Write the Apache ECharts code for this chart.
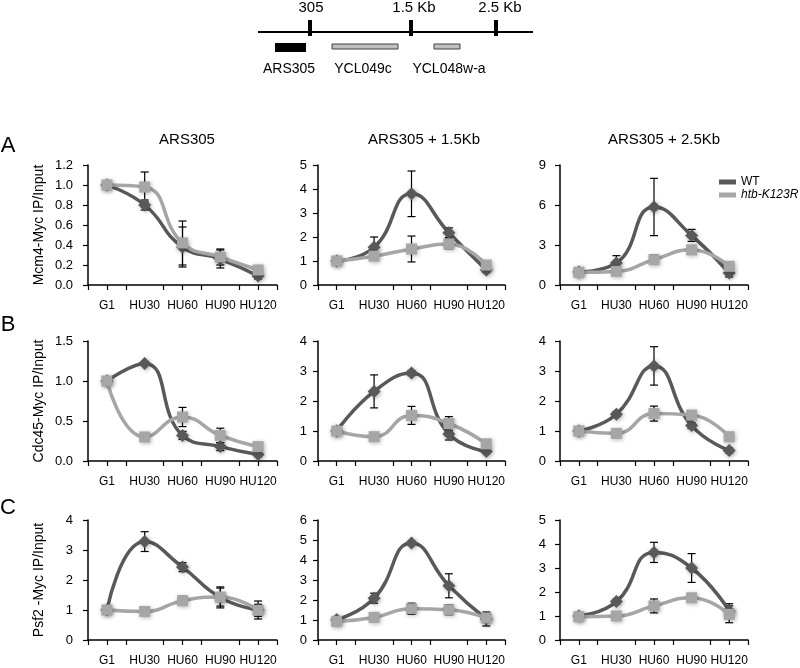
<!DOCTYPE html>
<html>
<head>
<meta charset="utf-8">
<script src="https://cdn.jsdelivr.net/npm/echarts@6/dist/echarts.min.js"></script>
<style>
html,body{margin:0;padding:0;background:#fff;}
#chart{width:800px;height:668px;}
</style>
</head>
<body>
<div id="chart"></div>
<script>
// ---------- data ----------
const categories = ['G1', 'HU30', 'HU60', 'HU90', 'HU120'];
const seriesNames = ['WT', 'htb-K123R'];
const columnTitles = ['ARS305', 'ARS305 + 1.5Kb', 'ARS305 + 2.5Kb'];
const rowLabels = ['A', 'B', 'C'];
const rowAxisNames = ['Mcm4-Myc IP/Input', 'Cdc45-Myc IP/Input', 'Psf2 -Myc IP/Input'];

// Row A: Mcm4
const mcm4_ars305_wt      = [1.00, 0.80, 0.38, 0.26, 0.09];
const mcm4_ars305_wtErr   = [0.03, 0.05, 0.20, 0.09, 0.03];
const mcm4_ars305_htb     = [1.00, 0.98, 0.42, 0.28, 0.15];
const mcm4_ars305_htbErr  = [0.02, 0.15, 0.22, 0.08, 0.03];

const mcm4_1_5kb_wt       = [1.00, 1.57, 3.80, 2.18, 0.62];
const mcm4_1_5kb_wtErr    = [0.05, 0.43, 0.95, 0.20, 0.10];
const mcm4_1_5kb_htb      = [1.00, 1.20, 1.50, 1.71, 0.83];
const mcm4_1_5kb_htbErr   = [0.05, 0.10, 0.54, 0.20, 0.05];

const mcm4_2_5kb_wt       = [0.97, 1.65, 5.85, 3.72, 0.90];
const mcm4_2_5kb_wtErr    = [0.10, 0.55, 2.15, 0.45, 0.30];
const mcm4_2_5kb_htb      = [0.95, 1.02, 1.90, 2.64, 1.40];
const mcm4_2_5kb_htbErr   = [0.10, 0.20, 0.35, 0.20, 0.20];

// Row B: Cdc45
const cdc45_ars305_wt     = [1.00, 1.22, 0.32, 0.18, 0.08];
const cdc45_ars305_wtErr  = [0.02, 0.02, 0.05, 0.05, 0.02];
const cdc45_ars305_htb    = [1.00, 0.30, 0.55, 0.32, 0.18];
const cdc45_ars305_htbErr = [0.02, 0.03, 0.12, 0.09, 0.02];

const cdc45_1_5kb_wt      = [1.00, 2.32, 2.93, 0.90, 0.32];
const cdc45_1_5kb_wtErr   = [0.05, 0.55, 0.08, 0.20, 0.05];
const cdc45_1_5kb_htb     = [1.00, 0.81, 1.52, 1.25, 0.57];
const cdc45_1_5kb_htbErr  = [0.05, 0.05, 0.30, 0.23, 0.05];

const cdc45_2_5kb_wt      = [1.00, 1.56, 3.17, 1.18, 0.35];
const cdc45_2_5kb_wtErr   = [0.05, 0.08, 0.64, 0.10, 0.08];
const cdc45_2_5kb_htb     = [1.00, 0.92, 1.58, 1.53, 0.81];
const cdc45_2_5kb_htbErr  = [0.05, 0.05, 0.25, 0.10, 0.05];

// Row C: Psf2
const psf2_ars305_wt      = [1.00, 3.28, 2.43, 1.42, 1.00];
const psf2_ars305_wtErr   = [0.10, 0.33, 0.15, 0.35, 0.30];
const psf2_ars305_htb     = [1.00, 0.95, 1.31, 1.43, 0.99];
const psf2_ars305_htbErr  = [0.10, 0.10, 0.15, 0.30, 0.20];

const psf2_1_5kb_wt       = [1.01, 2.09, 4.85, 2.71, 1.05];
const psf2_1_5kb_wtErr    = [0.10, 0.25, 0.08, 0.60, 0.35];
const psf2_1_5kb_htb      = [0.93, 1.13, 1.56, 1.51, 1.10];
const psf2_1_5kb_htbErr   = [0.05, 0.10, 0.28, 0.25, 0.20];

const psf2_2_5kb_wt       = [1.00, 1.60, 3.65, 3.00, 1.21];
const psf2_2_5kb_wtErr    = [0.08, 0.10, 0.42, 0.60, 0.30];
const psf2_2_5kb_htb      = [0.97, 1.00, 1.42, 1.76, 1.07];
const psf2_2_5kb_htbErr   = [0.05, 0.10, 0.29, 0.10, 0.35];

// y-axis scales per panel: [max, interval, decimals]
const yScaleA = [[1.2, 0.2, 1], [5, 1, 0], [9, 3, 0]];
const yScaleB = [[1.5, 0.5, 1], [4, 1, 0], [4, 1, 0]];
const yScaleC = [[4, 1, 0], [6, 1, 0], [5, 1, 0]];

// top map labels
const mapTickLabels = ['305', '1.5 Kb', '2.5 Kb'];
const mapFeatureLabels = ['ARS305', 'YCL049c', 'YCL048w-a'];

// ---------- assemble panels ----------
const panels = [
  [mcm4_ars305_wt, mcm4_ars305_wtErr, mcm4_ars305_htb, mcm4_ars305_htbErr, yScaleA[0]],
  [mcm4_1_5kb_wt, mcm4_1_5kb_wtErr, mcm4_1_5kb_htb, mcm4_1_5kb_htbErr, yScaleA[1]],
  [mcm4_2_5kb_wt, mcm4_2_5kb_wtErr, mcm4_2_5kb_htb, mcm4_2_5kb_htbErr, yScaleA[2]],
  [cdc45_ars305_wt, cdc45_ars305_wtErr, cdc45_ars305_htb, cdc45_ars305_htbErr, yScaleB[0]],
  [cdc45_1_5kb_wt, cdc45_1_5kb_wtErr, cdc45_1_5kb_htb, cdc45_1_5kb_htbErr, yScaleB[1]],
  [cdc45_2_5kb_wt, cdc45_2_5kb_wtErr, cdc45_2_5kb_htb, cdc45_2_5kb_htbErr, yScaleB[2]],
  [psf2_ars305_wt, psf2_ars305_wtErr, psf2_ars305_htb, psf2_ars305_htbErr, yScaleC[0]],
  [psf2_1_5kb_wt, psf2_1_5kb_wtErr, psf2_1_5kb_htb, psf2_1_5kb_htbErr, yScaleC[1]],
  [psf2_2_5kb_wt, psf2_2_5kb_wtErr, psf2_2_5kb_htb, psf2_2_5kb_htbErr, yScaleC[2]]
];

const FONT = "'Liberation Sans', Arial, sans-serif";
const WT_COLOR = '#595959';
const HTB_COLOR = '#a6a6a6';
const colLeft = [88, 318, 560];
const colWidth = [189, 187, 188];
const rowTop = [165, 341, 520];
const rowHeight = 120;
const yLabelMargin = [15, 11, 14];

const grids = [], xAxes = [], yAxes = [], series = [];

function renderErr(params, api) {
  const x = api.value(0), y = api.value(1), e = api.value(2);
  const top = api.coord([x, y + e]);
  const bot = api.coord([x, y - e]);
  const cw = 4;
  const st = {stroke: '#000', lineWidth: 1.2};
  return {
    type: 'group',
    children: [
      {type: 'line', shape: {x1: top[0], y1: top[1], x2: bot[0], y2: bot[1]}, style: st},
      {type: 'line', shape: {x1: top[0] - cw, y1: top[1], x2: top[0] + cw, y2: top[1]}, style: st},
      {type: 'line', shape: {x1: bot[0] - cw, y1: bot[1], x2: bot[0] + cw, y2: bot[1]}, style: st}
    ]
  };
}

panels.forEach((p, i) => {
  const r = Math.floor(i / 3), c = i % 3;
  const [wt, wtErr, htb, htbErr, ys] = p;
  grids.push({left: colLeft[c], top: rowTop[r], width: colWidth[c], height: rowHeight, containLabel: false});
  // main category axis (boundary ticks + labels)
  xAxes.push({
    type: 'category', gridIndex: i, data: categories, boundaryGap: true,
    axisLine: {show: true, lineStyle: {color: '#000', width: 1.5}},
    axisTick: {show: true, length: 5, lineStyle: {color: '#000', width: 1.2}},
    axisLabel: {show: true, margin: 15, fontSize: 12, fontFamily: FONT, color: '#000', interval: 0},
    splitLine: {show: false}
  });
  // overlay axis for ticks at category centres
  xAxes.push({
    type: 'category', gridIndex: i, data: categories, boundaryGap: true, position: 'bottom',
    axisLine: {show: false},
    axisTick: {show: true, alignWithLabel: true, length: 5, lineStyle: {color: '#000', width: 1.2}},
    axisLabel: {show: false},
    splitLine: {show: false}
  });
  yAxes.push({
    type: 'value', gridIndex: i, min: 0, max: ys[0], interval: ys[1],
    axisLine: {show: true, lineStyle: {color: '#000', width: 1.5}},
    axisTick: {show: true, length: 5, lineStyle: {color: '#000', width: 1.2}},
    axisLabel: {show: true, margin: yLabelMargin[c], fontSize: 13, fontFamily: FONT, color: '#000',
      formatter: v => Number(v).toFixed(ys[2])},
    splitLine: {show: false},
    name: c === 0 ? rowAxisNames[r] : '',
    nameLocation: 'middle', nameGap: 42, nameRotate: 90,
    nameTextStyle: {fontSize: 14, fontFamily: FONT, color: '#000'}
  });
  const xi = 2 * i;
  series.push({
    type: 'custom', xAxisIndex: xi, yAxisIndex: i, renderItem: renderErr, z: 1, silent: true,
    encode: {x: 0, y: 1},
    data: wt.map((v, k) => [k, v, wtErr[k]])
  });
  series.push({
    type: 'custom', xAxisIndex: xi, yAxisIndex: i, renderItem: renderErr, z: 1, silent: true,
    encode: {x: 0, y: 1},
    data: htb.map((v, k) => [k, v, htbErr[k]])
  });
  series.push({
    name: seriesNames[0], type: 'line', xAxisIndex: xi, yAxisIndex: i, data: wt,
    smooth: 0.5, symbol: 'diamond', symbolSize: 13, z: 3,
    lineStyle: {color: WT_COLOR, width: 3.5},
    itemStyle: {color: WT_COLOR, shadowBlur: 4, shadowColor: 'rgba(0,0,0,0.35)', shadowOffsetX: 1, shadowOffsetY: 1}
  });
  series.push({
    name: seriesNames[1], type: 'line', xAxisIndex: xi, yAxisIndex: i, data: htb,
    smooth: 0.5, symbol: 'rect', symbolSize: 11, z: 4,
    lineStyle: {color: HTB_COLOR, width: 3.5},
    itemStyle: {color: HTB_COLOR, shadowBlur: 4, shadowColor: 'rgba(0,0,0,0.3)', shadowOffsetX: 1, shadowOffsetY: 1}
  });
});

// ---------- decorative graphics (titles, letters, locus map) ----------
const graphics = [];
const titleX = [187, 424, 664];
columnTitles.forEach((t, c) => {
  graphics.push({type: 'text', x: titleX[c], y: 140, style: {text: t, font: '15px ' + FONT, fill: '#000', textAlign: 'center', textVerticalAlign: 'middle'}});
});
const letterY = [146, 325, 508];
rowLabels.forEach((t, r) => {
  graphics.push({type: 'text', x: 8, y: letterY[r], style: {text: t, font: '22px ' + FONT, fill: '#000', textAlign: 'center', textVerticalAlign: 'middle'}});
});
// locus map
graphics.push({type: 'line', shape: {x1: 258, y1: 32, x2: 533, y2: 32}, style: {stroke: '#000', lineWidth: 2}});
const mapTickX = [310, 411, 496];
const mapTickLabelX = [311, 414, 500];
mapTickX.forEach((x, k) => {
  graphics.push({type: 'rect', shape: {x: x - 2, y: 20, width: 4, height: 16}, style: {fill: '#000'}});
  graphics.push({type: 'text', x: mapTickLabelX[k], y: 8, style: {text: mapTickLabels[k], font: '15px ' + FONT, fill: '#000', textAlign: 'center', textVerticalAlign: 'middle'}});
});
graphics.push({type: 'rect', shape: {x: 275, y: 43, width: 31, height: 9}, style: {fill: '#000'}});
graphics.push({type: 'rect', shape: {x: 332, y: 44, width: 66, height: 5}, style: {fill: '#bfbfbf', stroke: '#404040', lineWidth: 1}});
graphics.push({type: 'rect', shape: {x: 434, y: 44, width: 26, height: 5}, style: {fill: '#bfbfbf', stroke: '#404040', lineWidth: 1}});
const featureX = [289, 363, 449];
mapFeatureLabels.forEach((t, k) => {
  graphics.push({type: 'text', x: featureX[k], y: 69, style: {text: t, font: '14px ' + FONT, fill: '#000', textAlign: 'center', textVerticalAlign: 'middle'}});
});

const option = {
  backgroundColor: '#fff',
  animation: false,
  grid: grids,
  xAxis: xAxes,
  yAxis: yAxes,
  legend: [
    {data: [{name: 'WT', icon: 'rect'}], orient: 'vertical', left: 714, top: 171, itemWidth: 17, itemHeight: 5, itemGap: 0,
      textStyle: {fontSize: 12, fontFamily: FONT, color: '#000'}, selectedMode: false},
    {data: [{name: 'htb-K123R', icon: 'rect'}], orient: 'vertical', left: 714, top: 184, itemWidth: 17, itemHeight: 5, itemGap: 0,
      textStyle: {fontSize: 12, fontFamily: FONT, color: '#000', fontStyle: 'italic'}, selectedMode: false}
  ],
  graphic: graphics,
  series: series
};

const chart = echarts.init(document.getElementById('chart'), null, {renderer: 'canvas'});
chart.setOption(option);
</script>
</body>
</html>
